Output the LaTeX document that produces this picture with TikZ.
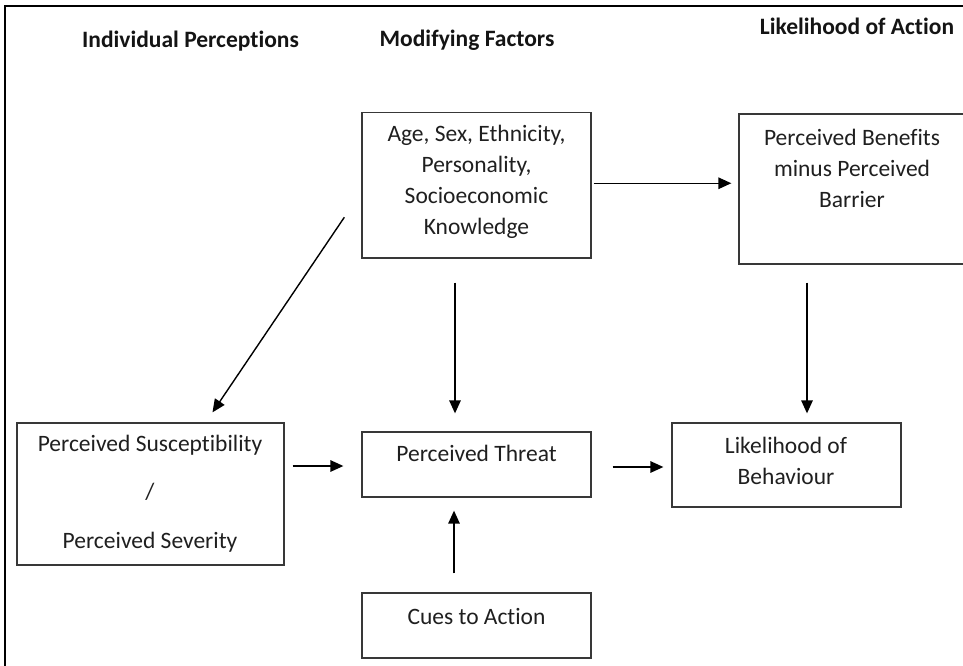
\documentclass[tikz,border=0pt]{standalone}
\usepackage{fontspec}
\setmainfont{Carlito}[Ligatures={NoCommon}]
\usetikzlibrary{arrows.meta}

\tikzset{
  boxnode/.style={draw=black!78, line width=1.3pt, inner sep=0pt, rectangle},
  label/.style={text=black!88, align=center, inner sep=0pt,
    font=\fontsize{23.5}{31}\selectfont},
  heading/.style={text=black!92, inner sep=0pt,
    font=\fontsize{23.5}{28}\selectfont\bfseries},
  arr/.style={line width=1.4pt, draw=black,
    -{Triangle[length=13pt,width=11.5pt]}},
  frameline/.style={line width=2pt, draw=black}
}

\begin{document}
\begin{tikzpicture}[x=1pt, y=-1pt]
  \useasboundingbox (0,0) rectangle (963,666);
  \clip (0,0) rectangle (963,666);

  % outer frame (top and left edges)
  \draw[frameline] (975,6) -- (5,6) -- (5,680);

  % column headings
  \node[heading] (hIndividual) at (190.5,41) {Individual Perceptions};
  \node[heading] (hModifying)  at (467,40)   {Modifying Factors};
  \node[heading] (hAction)     at (857,26)   {Likelihood of Action};

  % boxes
  \node[boxnode, minimum width=229pt, minimum height=145.5pt] (age)  at (476.5,185.25) {};
  \node[boxnode, minimum width=227pt, minimum height=150pt]   (pbb)  at (852.5,189)    {};
  \node[boxnode, minimum width=267pt, minimum height=142pt]   (ps)   at (150.5,494)    {};
  \node[boxnode, minimum width=229pt, minimum height=65pt]    (pt)   at (476.5,464.5)  {};
  \node[boxnode, minimum width=229pt, minimum height=84pt]    (lb)   at (786.5,465)    {};
  \node[boxnode, minimum width=229pt, minimum height=65pt]    (cues) at (476.5,625.5)  {};

  % box texts
  \node[label] (ageText) at (476.5,181.5)
    {Age, Sex, Ethnicity,\\Personality,\\Socioeconomic\\Knowledge};
  \node[label] (pbbText) at (852,168)
    {Perceived Benefits\\minus Perceived\\Barrier};
  \node[label, font=\fontsize{23.5}{48.5}\selectfont] (psText) at (150,493.5)
    {Perceived Susceptibility\\/\\Perceived Severity};
  \node[label] (ptText)   at (476.5,453)  {Perceived Threat};
  \node[label] (lbText)   at (786,460.5)  {Likelihood of\\Behaviour};
  \node[label] (cuesText) at (476.5,616)  {Cues to Action};

  % connectors
  \draw[arr, shorten <=2pt, shorten >=7pt]
    ([yshift=2pt]age.east) -- ([yshift=2pt]age.east -| pbb.west);
  \draw[arr]
    ([shift={(-17pt,-32pt)}]age.west) -- ([shift={(62pt,10pt)}]ps.north);
  \draw[arr, shorten <=24pt, shorten >=18pt]
    ([xshift=-21.5pt]age.south) -- ([xshift=-21.5pt]age.south |- pt.north);
  \draw[arr, shorten <=18pt, shorten >=9pt]
    ([xshift=20.5pt]lb.north |- pbb.south) -- ([xshift=20.5pt]lb.north);
  \draw[arr, shorten <=8pt, shorten >=18pt]
    ([yshift=-1.5pt]pt.west -| ps.east) -- ([yshift=-1.5pt]pt.west);
  \draw[arr, shorten <=21pt, shorten >=8pt]
    ([yshift=-2pt]lb.west -| pt.east) -- ([yshift=-2pt]lb.west);
  \draw[arr, shorten <=19pt, shorten >=13pt]
    ([xshift=-22.5pt]cues.north) -- ([xshift=-22.5pt]cues.north |- pt.south);
\end{tikzpicture}
\end{document}
